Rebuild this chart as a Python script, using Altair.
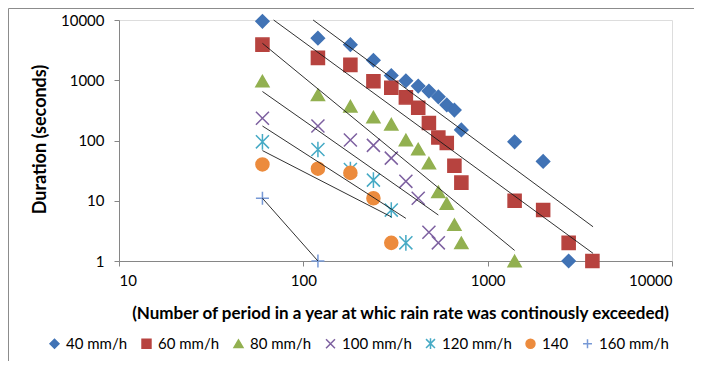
import altair as alt
import pandas as pd

# ---- data ----
series = ["40 mm/h", "60 mm/h", "80 mm/h", "100 mm/h", "120 mm/h", "140", "160 mm/h"]

x_40 = [60, 120, 180, 240, 300, 360, 420, 480, 540, 600, 660, 720, 1400, 2000, 2750]
y_40 = [9500, 5000, 3900, 2150, 1200, 980, 800, 660, 530, 390, 320, 150, 95, 45, 1]

x_60 = [60, 120, 180, 240, 300, 360, 420, 480, 540, 600, 660, 720, 1400, 2000, 2750, 3700]
y_60 = [3900, 2350, 1800, 960, 750, 520, 350, 195, 112, 91, 38, 20, 10, 7, 2, 1]

x_80 = [60, 120, 180, 240, 300, 360, 420, 480, 540, 600, 660, 720, 1400]
y_80 = [970, 570, 370, 245, 186, 102, 72, 42, 14, 9, 4, 2, 1]

x_100 = [60, 120, 180, 240, 300, 360, 420, 480, 540]
y_100 = [234, 174, 102, 83, 51, 21, 11, 3, 2]

x_120 = [60, 120, 180, 240, 300, 360]
y_120 = [95, 71, 33, 22, 7, 2]

x_140 = [60, 120, 180, 240, 300]
y_140 = [40, 34, 29, 11, 2]

x_160 = [60, 120]
y_160 = [11, 1]

# trend lines (start / end values as drawn in the reference)
trend_ids = ["40", "60", "80", "100", "120", "140", "160"]
trend_x0 = [113, 69, 60, 60, 60, 60, 60]
trend_y0 = [10000, 10000, 4100, 650, 174, 68, 11]
trend_x1 = [3730, 3730, 1400, 540, 360, 300, 120]
trend_y1 = [3.7, 1.34, 1.5, 5.8, 5.1, 5.4, 1]

x_ticks = [10, 100, 1000, 10000]
y_ticks = [1, 10, 100, 1000, 10000]

# ---- styling ----
colors = ["#4173B5", "#B7433F", "#92B050", "#7D60A0", "#46AAC5", "#EC8B3D", "#7799D6"]
X_PATH = "M-1,-1L1,1M-1,1L1,-1"
AST_PATH = "M-1,-1L1,1M-1,1L1,-1M0,-1.2L0,1.2"
PLUS_PATH = "M-1,0L1,0M0,-1L0,1"
shapes = ["diamond", "square", "triangle-up", X_PATH, AST_PATH, "circle", PLUS_PATH]
fills = [colors[0], colors[1], colors[2], "transparent", "transparent", colors[5], "transparent"]

FONT = "Lato"

rows = []
for name, xs, ys in zip(series,
                        [x_40, x_60, x_80, x_100, x_120, x_140, x_160],
                        [y_40, y_60, y_80, y_100, y_120, y_140, y_160]):
    for xv, yv in zip(xs, ys):
        rows.append({"series": name, "x": xv, "y": yv})
df = pd.DataFrame(rows)

trows = []
for tid, a, b, c, d in zip(trend_ids, trend_x0, trend_y0, trend_x1, trend_y1):
    trows.append({"id": tid, "x": a, "y": b})
    trows.append({"id": tid, "x": c, "y": d})
tdf = pd.DataFrame(trows)

xscale = alt.Scale(type="log", domain=[10, 10000], nice=False)
yscale = alt.Scale(type="log", domain=[1, 10000], nice=False)

xaxis = alt.Axis(values=x_ticks, format="d", grid=False,
                 title="(Number of period in a year at whic rain rate was continously exceeded)",
                 titleFont=FONT, titleFontSize=17, titleFontWeight="bold", titleColor="#000",
                 titleX=281, titleY=52, titleBaseline="middle", titleAlign="center",
                 labelFont=FONT, labelFontSize=15, labelColor="#000", labelPadding=7,
                 tickSize=5, tickColor="#868686", domainColor="#868686")
yaxis = alt.Axis(values=y_ticks, format="d", grid=False,
                 title="Duration (seconds)",
                 titleFont=FONT, titleFontSize=18, titleFontWeight="bold", titleColor="#000",
                 titleX=-79, titleY=119, titleBaseline="middle", titleAlign="center",
                 labelFont=FONT, labelFontSize=15, labelColor="#000", labelPadding=10,
                 tickSize=5, tickColor="#868686", domainColor="#868686")

legend = alt.Legend(title=None, orient="none", legendX=-72, legendY=316,
                    direction="horizontal", columns=7, symbolSize=80,
                    symbolStrokeWidth=1.5, labelFont=FONT, labelFontSize=15,
                    labelColor="#000", columnPadding=11, labelOffset=4)

points = alt.Chart(df).mark_point(filled=True, opacity=1, size=170, strokeWidth=1.5).encode(
    x=alt.X("x:Q", scale=xscale, axis=xaxis),
    y=alt.Y("y:Q", scale=yscale, axis=yaxis),
    shape=alt.Shape("series:N", scale=alt.Scale(domain=series, range=shapes), legend=legend),
    fill=alt.Fill("series:N", scale=alt.Scale(domain=series, range=fills), legend=legend),
    stroke=alt.Stroke("series:N", scale=alt.Scale(domain=series, range=colors), legend=legend),
)

lines = alt.Chart(tdf).mark_line(color="#1a1a1a", strokeWidth=0.9).encode(
    x=alt.X("x:Q", scale=xscale),
    y=alt.Y("y:Q", scale=yscale),
    detail="id:N",
)

frame = alt.Chart(pd.DataFrame({"a": [0]})).mark_rule(
    stroke="#8c8c8c", strokeWidth=1
).encode(
    x=alt.value(-110.5), y=alt.value(-11.5), x2=alt.value(-110.5), y2=alt.value(348)
)
frame_top = alt.Chart(pd.DataFrame({"a": [0]})).mark_rule(
    stroke="#8c8c8c", strokeWidth=1
).encode(
    x=alt.value(-110.5), y=alt.value(-11.5), x2=alt.value(575), y2=alt.value(-11.5)
)

chart = alt.layer(frame, frame_top, points, lines).properties(
    width=553, height=241,
    autosize=alt.AutoSizeParams(type="none"),
    padding={"left": 111, "top": 12, "right": 22, "bottom": 100},
).configure_view(stroke=None).configure(background="white")

chart.save("out.html", embed_options={"renderer": "svg", "actions": False})
